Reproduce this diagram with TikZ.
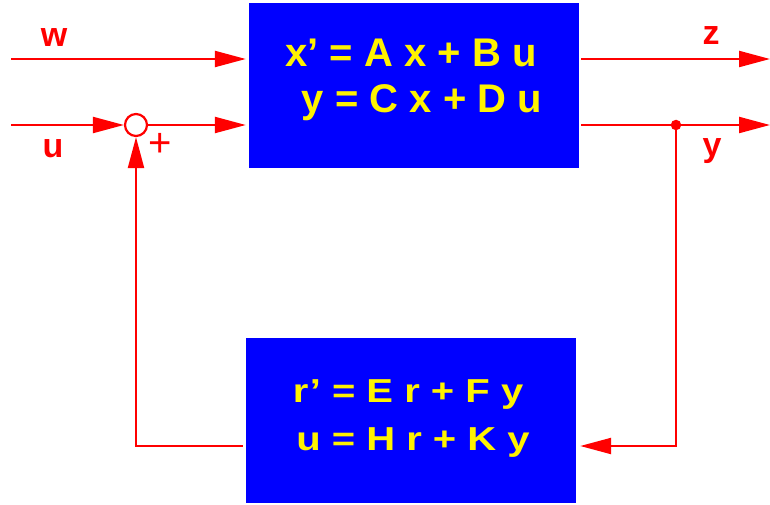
\documentclass[tikz,border=0pt]{standalone}
\usepackage{fontspec}
\setmainfont{Liberation Sans}
\usetikzlibrary{arrows.meta,positioning}

\begin{document}
\begin{tikzpicture}[x=1pt,y=-1pt,
  blk/.style={fill=blue,draw=none,minimum width=330pt,minimum height=165pt,inner sep=0pt},
  eq/.style={text=yellow,font=\fontsize{40}{46}\selectfont\bfseries,inner sep=0pt,anchor=base},
  sig/.style={red,line width=2.2pt},
  arr/.style={sig,-{Triangle[length=31pt,width=16pt]}},
  lbl/.style={text=red,font=\fontsize{34}{34}\selectfont\bfseries,inner sep=0pt,anchor=base},
  sumnode/.style={circle,draw=red,line width=2.2pt,minimum size=22pt,inner sep=0pt},
  tapdot/.style={circle,fill=red,minimum size=10.5pt,inner sep=0pt}]
\useasboundingbox (0,0) rectangle (770,505);
% blocks
\node[blk] (plant) at (414,85.5) {};
\node[blk] (ctrl) at (411,420.5) {};
\node[eq] (plantA) at (411,67) {x’ = A x + B u};
\node[eq] (plantB) at (422,113) {y = C x + D u};
\node[eq] (ctrlA) at (408,402) {\scalebox{1}[0.83]{r’ = E r + F y}};
\node[eq] (ctrlB) at (413,450) {\scalebox{1}[0.83]{u = H r + K y}};
% junctions and ends
\node[sumnode] (sum) at (136,125) {};
\node[tapdot] (tap) at (676,125) {};
\coordinate (wIn) at (11,59);
\coordinate (uIn) at (11,125);
\coordinate (zOut) at (770,59);
\coordinate (yOut) at (770,125);
\coordinate (fbR) at (676,446);
\coordinate (fbL) at (136,446);
% signals
\draw[arr,shorten >=3pt] (wIn) -- (plant.west |- wIn);
\draw[arr] (uIn) -- (sum.west);
\draw[arr,shorten >=3pt] (sum.east) -- (plant.west |- sum.east);
\draw[arr,shorten <=2pt] (plant.east |- zOut) -- (zOut);
\draw[arr,shorten <=2pt] (plant.east |- yOut) -- (yOut);
\draw[arr,shorten >=4pt] (tap.center) -- (fbR) -- (ctrl.east |- fbR);
\draw[arr,shorten <=3pt] (ctrl.west |- fbL) -- (fbL) -- (sum.south);
% labels
\node[lbl] (wLbl) at (54,47) {w};
\node[lbl] (uLbl) at (53,158) {u};
\node[lbl] (zLbl) at (711,45) {z};
\node[lbl] (yLbl) at (712,157) {y};
\node[text=red,inner sep=0pt,font=\fontsize{40}{40}\selectfont\mdseries] (plus) at (160,145) {+};
\end{tikzpicture}
\end{document}
